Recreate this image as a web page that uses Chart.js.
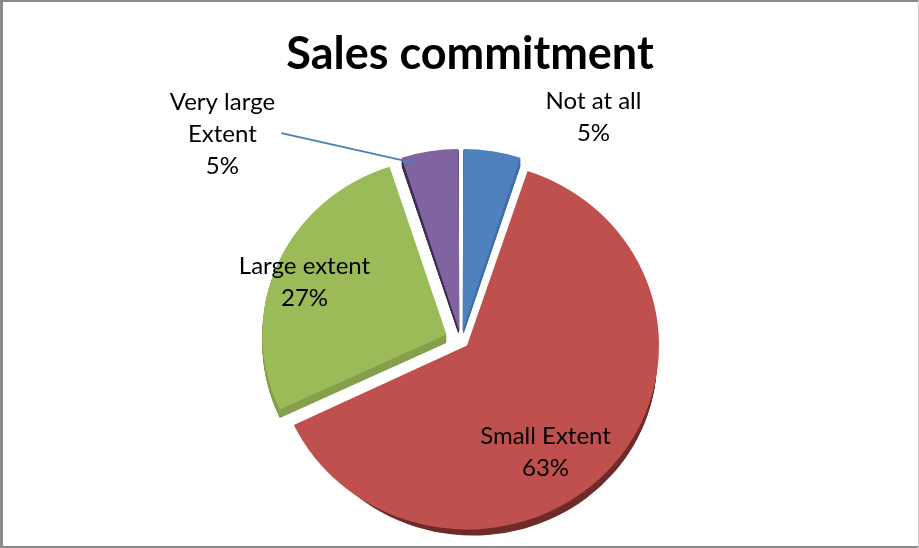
<!DOCTYPE html>
<html>
<head>
<meta charset="utf-8">
<script src="https://cdn.jsdelivr.net/npm/chart.js@4.4.1/dist/chart.umd.min.js"></script>
<style>
  html, body { margin: 0; padding: 0; background: #ffffff; overflow: hidden; }
  #wrap { width: 919px; height: 548px; position: relative; }
</style>
</head>
<body>
<div id="wrap"><canvas id="c" width="919" height="548"></canvas></div>
<script>
// ---- data ----
const chartTitle = 'Sales commitment';
const categories = ['Not at all', 'Small Extent', 'Large extent', 'Very large Extent'];
const percentages = [5, 63, 27, 5];
// category names as they wrap in the data labels
const labelLines = [['Not at all'], ['Small Extent'], ['Large extent'], ['Very large', 'Extent']];

// ---- styling ----
const sliceColors = ['#4F81BD', '#C0504D', '#9BBB59', '#8064A2'];
const sideColors  = ['#3F6EA6', '#6E2B29', '#84A04A', '#3E2F52'];
const FONT = 'Lato, "Open Sans", "DejaVu Sans", sans-serif';
const EXPLODE = 16;      // px each slice is pulled away from the centre
const RADIUS = 184;
const TILT = 0.958;      // vertical squash of the pie, as seen from slightly above
const DEPTH = 9;         // thickness of the pie's rim (screen px)
const LABEL_SIZE = 24;
const LINE_H = 32;

// label placement, polar from the pie centre (degrees clockwise from 12 o'clock, px)
const labelPlacement = [
  { angle: 30.55, dist: 260.7 },
  { angle: 142.8, dist: 139.8 },
  { angle: 290.7, dist: 167.3 },
  { angle: 311.0, dist: 316.1, leader: { dx: 59, angle: 345.5, dist: 183.3 } }
];

const total = percentages.reduce((a, b) => a + b, 0);

// Chart.js shifts an arc by offset/4 * (2 - sin(min(PI, circumference)))
function arcShift(circ, offset) {
  return offset / 4 * (2 - Math.sin(Math.min(Math.PI, circ)));
}

function polar(cx, cy, deg, dist) {
  const a = (deg - 90) * Math.PI / 180;
  return { x: cx + Math.cos(a) * dist, y: cy + Math.sin(a) * dist };
}

function pieCentre(chart) {
  const a = chart.chartArea;
  return { x: (a.left + a.right) / 2, y: (a.top + a.bottom) / 2 };
}

const framePlugin = {
  id: 'frame',
  beforeDraw(chart) {
    const { ctx, width, height } = chart;
    ctx.save();
    ctx.fillStyle = '#ffffff';
    ctx.fillRect(0, 0, width, height);
    ctx.restore();
  },
  afterDraw(chart) {
    const { ctx, width, height } = chart;
    ctx.save();
    ctx.fillStyle = '#8a8a8a';
    ctx.fillRect(0, 0, 3, height);          // left
    ctx.fillRect(0, 0, width, 2);           // top
    ctx.fillRect(0, height - 2, width, 2);  // bottom
    ctx.fillStyle = '#c8c8c8';
    ctx.fillRect(width - 1, 0, 1, height);  // right
    ctx.restore();
  }
};

// tilts the pie and draws a darker copy of each slice beneath it as the rim
const rimPlugin = {
  id: 'rim',
  beforeDatasetsDraw(chart) {
    const { ctx } = chart;
    const c = pieCentre(chart);
    ctx.save();
    ctx.translate(0, c.y);
    ctx.scale(1, TILT);
    ctx.translate(0, -c.y);
    const meta = chart.getDatasetMeta(0);
    const depth = DEPTH / TILT;
    meta.data.forEach((arc, i) => {
      const p = arc.getProps(['x', 'y', 'startAngle', 'endAngle', 'outerRadius', 'circumference'], true);
      const mid = (p.startAngle + p.endAngle) / 2;
      const s = arcShift(p.circumference, arc.options.offset);
      const cx = p.x + Math.cos(mid) * s;
      const cy = p.y + Math.sin(mid) * s;
      ctx.fillStyle = sideColors[i];
      for (let d = 1; d <= depth; d += 0.5) {
        ctx.beginPath();
        ctx.moveTo(cx, cy + d);
        ctx.arc(cx, cy + d, p.outerRadius, p.startAngle, p.endAngle);
        ctx.closePath();
        ctx.fill();
      }
    });
  },
  afterDatasetsDraw(chart) {
    chart.ctx.restore();
  }
};

const labelPlugin = {
  id: 'sliceLabels',
  afterDatasetsDraw(chart) {
    const { ctx } = chart;
    const centre = pieCentre(chart);
    const capH = LABEL_SIZE * 0.72;
    ctx.save();

    // title
    ctx.fillStyle = '#000000';
    ctx.font = 'bold 45px ' + FONT;
    ctx.textAlign = 'center';
    ctx.textBaseline = 'alphabetic';
    ctx.fillText(chartTitle, 470, 69);

    ctx.font = LABEL_SIZE + 'px ' + FONT;
    percentages.forEach((v, i) => {
      const lines = labelLines[i].concat([v + '%']);
      const place = labelPlacement[i];
      const c = polar(centre.x, centre.y, place.angle, place.dist);
      const n = lines.length;
      lines.forEach((t, k) => {
        const base = c.y + capH / 2 + (k - (n - 1) / 2) * LINE_H;
        ctx.fillText(t, c.x, base);
      });
      if (place.leader) {
        const end = polar(centre.x, centre.y, place.leader.angle, place.leader.dist);
        ctx.strokeStyle = '#4A7EBB';
        ctx.lineWidth = 1.8;
        ctx.beginPath();
        ctx.moveTo(c.x + place.leader.dx, c.y);
        ctx.lineTo(end.x, end.y);
        ctx.stroke();
      }
    });
    ctx.restore();
  }
};

new Chart(document.getElementById('c'), {
  type: 'pie',
  data: {
    labels: categories,
    datasets: [{
      data: percentages,
      backgroundColor: sliceColors,
      borderWidth: 0,
      clip: false,
      offset: (c) => {
        const circ = c.raw / total * Math.PI * 2;
        return EXPLODE * 4 / (2 - Math.sin(Math.min(Math.PI, circ)));
      }
    }]
  },
  options: {
    responsive: false,
    animation: false,
    events: [],
    radius: RADIUS,
    rotation: 0,
    layout: { padding: { top: 133, left: 3, right: 0, bottom: 0 } },
    plugins: {
      legend: { display: false },
      title: { display: false },
      tooltip: { enabled: false }
    }
  },
  plugins: [framePlugin, rimPlugin, labelPlugin]
});
</script>
</body>
</html>
